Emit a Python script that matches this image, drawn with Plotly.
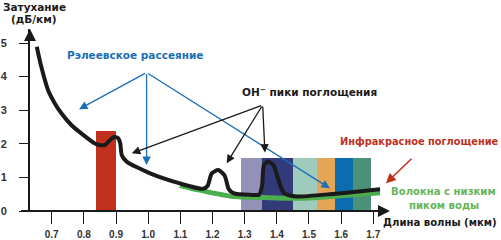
import plotly.graph_objects as go

# ---- data ----
black_x = [0.6535, 0.6677, 0.6885, 0.7093, 0.730, 0.761, 0.792, 0.834, 0.851, 0.866, 0.880, 0.8945,
           0.906, 0.913, 0.918, 0.933,
           1.006, 1.099, 1.171, 1.185, 1.1975, 1.218, 1.238, 1.250, 1.265, 1.317, 1.345,
           1.354, 1.360, 1.3735, 1.390, 1.404, 1.420, 1.436, 1.462, 1.565, 1.721]
black_y = [4.89, 4.29, 3.60, 3.21, 2.91, 2.56, 2.31, 2.01, 1.96, 1.97, 2.10, 2.20,
           2.17, 2.02, 1.66, 1.47,
           1.12, 0.82, 0.66, 0.75, 1.12, 1.22, 1.05, 0.66, 0.53, 0.48, 0.49,
           0.75, 1.38, 1.47, 1.36, 0.95, 0.56, 0.47, 0.43, 0.50, 0.65]
green_x = [1.099, 1.161, 1.265, 1.358, 1.462, 1.565, 1.721]
green_y = [0.76, 0.62, 0.43, 0.40, 0.38, 0.43, 0.54]

red_bar = dict(left=0.838, right=0.899, height=2.38, color="#c0301d")
band_edges = [1.289, 1.355, 1.449, 1.526, 1.581, 1.637, 1.692]
band_height = 1.58
band_colors = ["#9391b8", "#323a7a", "#9fcbbd", "#e4a656", "#0c6cb0", "#4c9078"]

x_ticks = [0.7, 0.8, 0.9, 1.0, 1.1, 1.2, 1.3, 1.4, 1.5, 1.6, 1.7]
x_ticklabels = ["0.7", "0.8", "0.9", "1.0", "1.1", "1.2", "1.3", "1.4", "1.5", "1.6", "1.7"]
y_ticks = [0, 1, 2, 3, 4, 5]

x_range = [0.6325, 1.7519]
y_range = [0, 5.417]

FONT = "DejaVu Sans, sans-serif"
TICKFONT = "Liberation Sans, Arial, sans-serif"
L, T, W, H = 30, 29, 360, 182


def px(xp):
    return (xp - L) / W


def py(yp):
    return (T + H - yp) / H


fig = go.Figure()

# bars
fig.add_trace(go.Bar(x=[(red_bar["left"] + red_bar["right"]) / 2], y=[red_bar["height"]],
                     width=[red_bar["right"] - red_bar["left"]],
                     marker=dict(color=red_bar["color"], line=dict(width=0)), hoverinfo="skip"))
centers = [(band_edges[i] + band_edges[i + 1]) / 2 for i in range(len(band_colors))]
widths = [band_edges[i + 1] - band_edges[i] for i in range(len(band_colors))]
fig.add_trace(go.Bar(x=centers, y=[band_height] * len(centers), width=widths,
                     marker=dict(color=band_colors, line=dict(width=0)), hoverinfo="skip"))

# curves
fig.add_trace(go.Scatter(x=green_x, y=green_y, mode="lines",
                         line=dict(color="#4cae4c", width=5, shape="spline", smoothing=0.8)))
fig.add_trace(go.Scatter(x=black_x, y=black_y, mode="lines",
                         line=dict(color="#1a1a1a", width=4, shape="spline", smoothing=0.6)))

ann = []
BLUE = "#1a6fb5"
apex_b = (0.995, 4.12)
for tip in [(0.785, 3.03), (0.995, 1.37), (1.565, 0.676)]:
    ann.append(dict(x=tip[0], y=tip[1], ax=apex_b[0], ay=apex_b[1], xref="x", yref="y",
                    axref="x", ayref="y", showarrow=True, arrowhead=2, arrowsize=1.3,
                    arrowwidth=1.3, arrowcolor=BLUE, text=""))
apex_k = (1.356, 3.155)
for tip in [(0.949, 1.717), (1.244, 1.42), (1.363, 1.74)]:
    ann.append(dict(x=tip[0], y=tip[1], ax=apex_k[0], ay=apex_k[1], xref="x", yref="y",
                    axref="x", ayref="y", showarrow=True, arrowhead=2, arrowsize=1.3,
                    arrowwidth=1.3, arrowcolor="#1a1a1a", text=""))
ann.append(dict(x=1.7395, y=0.824, ax=27, ay=-26, xref="x", yref="y", showarrow=True,
                arrowhead=2, arrowsize=1.3, arrowwidth=1.5, arrowcolor="#c0301d", text=""))

# axis arrowheads
ann.append(dict(x=1.0, y=0, ax=-12, ay=0, xref="paper", yref="paper", showarrow=True, arrowhead=2,
                arrowsize=1.2, arrowwidth=2, arrowcolor="#1a1a1a", text=""))
ann.append(dict(x=0, y=1.0, ax=0, ay=12, xref="paper", yref="paper", showarrow=True, arrowhead=2,
                arrowsize=1.2, arrowwidth=2, arrowcolor="#1a1a1a", text=""))


def txt(xp, yp, s, color, xanchor="left", size=10.5):
    ann.append(dict(x=px(xp), y=py(yp), xref="paper", yref="paper", text=s, showarrow=False,
                    xanchor=xanchor, yanchor="middle", borderpad=0,
                    font=dict(family=FONT, size=size, color=color)))


txt(66, 55, "<b>Рэлеевское рассеяние</b>", BLUE)
txt(240.5, 91.5, "<b>OH<sup>−</sup> пики поглощения</b>", "#1a1a1a")
txt(339, 141.5, "<b>Инфракрасное поглощение</b>", "#c0301d", size=9.8)
txt(444, 191.5, "<b>Волокна с низким</b>", "#66b55a", "center", size=10.1)
txt(444, 205, "<b>пиком воды</b>", "#66b55a", "center", size=10.1)
txt(439.5, 222.5, "<b>Длина волны (мкм)</b>", "#1a1a1a", "center", size=10.1)
txt(34, 6.5, "<b>Затухание</b>", "#1a1a1a", "center")
txt(34, 19, "<b>(дБ/км)</b>", "#1a1a1a", "center")

fig.update_layout(
    width=501, height=240, margin=dict(l=L, r=501 - L - W, t=T, b=240 - T - H),
    paper_bgcolor="white", plot_bgcolor="white", showlegend=False, bargap=0,
    annotations=ann,
    shapes=[dict(type="line", xref="paper", yref="paper", x0=px(21), x1=0.99, y0=0, y1=0,
                 line=dict(color="#1a1a1a", width=2))],
    xaxis=dict(range=x_range, tickvals=x_ticks, ticktext=x_ticklabels, ticks="outside",
               ticklen=12, tickwidth=1.3, tickcolor="#1a1a1a", showline=False, automargin=False,
               showgrid=False, zeroline=False, ticklabelstandoff=2,
               tickfont=dict(family=TICKFONT, size=10, color="#333", weight="bold")),
    yaxis=dict(range=y_range, tickvals=y_ticks, ticks="outside", ticklen=9, tickwidth=1.3,
               tickcolor="#1a1a1a", showline=True, linecolor="#1a1a1a", linewidth=2,
               showgrid=False, zeroline=False, ticklabelstandoff=10, automargin=False,
               tickfont=dict(family=TICKFONT, size=11, color="#333", weight="bold")),
)
fig.write_html("out.html")
